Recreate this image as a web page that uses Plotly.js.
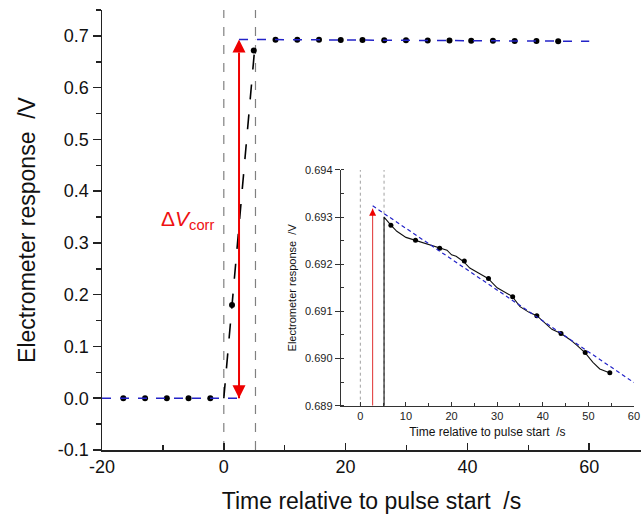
<!DOCTYPE html>
<html>
<head>
<meta charset="utf-8">
<script src="https://cdn.plot.ly/plotly-3.0.1.min.js"></script>
<style>html,body{margin:0;padding:0;background:#fff;}#chart{width:641px;height:519px;}</style>
</head>
<body>
<div id="chart"></div>
<script>
// ---------- Main panel data ----------
var pulseMarks = [0, 5.2];                       // pulse start / end (s)
var dotTimes = [-16.5, -12.93, -9.36, -5.79, -2.22, 1.35, 4.92, 8.49, 12.06, 15.63, 19.2, 22.77,
                26.34, 29.91, 33.48, 37.05, 40.62, 44.19, 47.76, 51.33, 54.9];
var dotValues = [0, 0, 0, 0, 0, 0.18, 0.672, 0.6927, 0.6925, 0.6924, 0.6922, 0.6921,
                 0.6918, 0.6915, 0.6913, 0.6910, 0.6908, 0.6905, 0.6902, 0.6900, 0.6897];
var rampTimes = [0.0, 1.35, 4.92, 5.2];
var rampValues = [0.0, 0.18, 0.672, 0.6930];
var baseTimes = [-20, 2.5];
var baseValues = [0, 0];
var fitTimes = [2.5, 60];
var fitValues = [0.69324, 0.68949];
var arrowTimes = [2.5, 2.5];
var arrowValues = [0.0, 0.693];

// ---------- Inset data ----------
var insetRawTimes = [5.2, 5.2, 6.7, 8, 10, 12, 14, 16, 17.5, 19, 20, 21, 22.6, 24, 26, 28, 30, 32,
                     33.3, 35, 37, 38.7, 40, 42, 44, 46, 47.5, 49.3, 51, 52.5, 54.6];
var insetRawValues = [0.6885, 0.6930, 0.69283, 0.6927, 0.69257, 0.69251, 0.69245, 0.6924, 0.69234,
                      0.6923, 0.6922, 0.69217, 0.69206, 0.69192, 0.69181, 0.6917, 0.6915, 0.69139,
                      0.69132, 0.6911, 0.69098, 0.69091, 0.6908, 0.69062, 0.69053, 0.6904, 0.69028,
                      0.69012, 0.68992, 0.68978, 0.6897];
var insetDotTimes = [6.7, 12.1, 17.4, 22.8, 28.1, 33.4, 38.7, 44.0, 49.3, 54.7];
var insetDotValues = [0.69283, 0.69251, 0.69234, 0.69207, 0.6917, 0.69131, 0.69091, 0.69053, 0.69013, 0.6897];
var insetFitTimes = [2.7, 60];
var insetFitValues = [0.69324, 0.68949];
var insetArrowTimes = [2.7, 2.7];
var insetArrowValues = [0.689, 0.69318];

// ---------- Ticks & text ----------
var xTickVals = [-20, 0, 20, 40, 60];
var xTickText = ['-20', '0', '20', '40', '60'];
var yTickVals = [-0.1, 0, 0.1, 0.2, 0.3, 0.4, 0.5, 0.6, 0.7];
var yTickText = ['-0.1', '0.0', '0.1', '0.2', '0.3', '0.4', '0.5', '0.6', '0.7'];
var insetXTickVals = [0, 10, 20, 30, 40, 50, 60];
var insetYTickVals = [0.689, 0.690, 0.691, 0.692, 0.693, 0.694];
var xTitle = 'Time relative to pulse start \u00a0/s';
var yTitle = 'Electrometer response \u00a0/V';
var deltaLabel = '\u0394<i>V</i><sub>corr</sub>';

var FONT = 'Arial, "Liberation Sans", Helvetica, sans-serif';
var blue = '#2323c8';
var red = '#ee0000';

function vlines(ts, lo, hi) {
  var x = [], y = [];
  ts.forEach(function (t, i) { if (i) { x.push(null); y.push(null); } x.push(t, t); y.push(lo, hi); });
  return {x: x, y: y};
}
var mainV = vlines(pulseMarks, -0.1, 0.75);
var insetV = vlines(pulseMarks, 0.689, 0.694);

var traces = [
  {x: mainV.x, y: mainV.y, mode: 'lines', line: {color: '#808080', width: 1.2, dash: 'dash'},
   hoverinfo: 'skip', showlegend: false},
  {x: rampTimes, y: rampValues, mode: 'lines', line: {color: '#000', width: 1.6, dash: 'longdash'},
   showlegend: false},
  {x: dotTimes, y: dotValues, mode: 'markers', marker: {color: '#000', size: 6}, showlegend: false},
  {x: baseTimes, y: baseValues, mode: 'lines', line: {color: blue, width: 1.5, dash: 'dash'}, showlegend: false},
  {x: fitTimes, y: fitValues, mode: 'lines', line: {color: blue, width: 1.5, dash: 'dash'}, showlegend: false},
  // double-headed red arrow
  {x: arrowTimes, y: arrowValues, mode: 'lines+markers', line: {color: red, width: 2},
   marker: {symbol: ['arrow-down', 'arrow-up'], size: 13, color: red, line: {width: 0}}, showlegend: false},

  {x: insetV.x, y: insetV.y, xaxis: 'x3', yaxis: 'y3', mode: 'lines',
   line: {color: '#a0a0a0', width: 1, dash: 'dot'}, hoverinfo: 'skip', showlegend: false},
  {x: insetArrowTimes, y: insetArrowValues, xaxis: 'x3', yaxis: 'y3', mode: 'lines',
   line: {color: '#e03030', width: 1}, showlegend: false},
  {x: insetArrowTimes.slice(1), y: insetArrowValues.slice(1), xaxis: 'x3', yaxis: 'y3', mode: 'markers',
   marker: {symbol: 'arrow-up', size: 7, color: red, line: {width: 0}}, showlegend: false},
  {x: insetRawTimes, y: insetRawValues, xaxis: 'x3', yaxis: 'y3', mode: 'lines',
   line: {color: '#111', width: 1.1}, showlegend: false},
  {x: insetDotTimes, y: insetDotValues, xaxis: 'x3', yaxis: 'y3', mode: 'markers',
   marker: {color: '#000', size: 5}, showlegend: false},
  {x: insetFitTimes, y: insetFitValues, xaxis: 'x3', yaxis: 'y3', mode: 'lines',
   line: {color: blue, width: 1.2, dash: '4px,3px'}, showlegend: false}
];

var mainRange = [-20, 68.5];
var axLine = '#222';

var layout = {
  width: 641, height: 519,
  margin: {l: 102, r: 0, t: 10, b: 69},
  paper_bgcolor: '#fff', plot_bgcolor: 'rgba(0,0,0,0)',
  font: {family: FONT, color: '#111'},
  showlegend: false,
  xaxis: {
    range: mainRange, tickmode: 'array', tickvals: xTickVals, ticktext: xTickText,
    ticks: 'inside', ticklen: 7, tickwidth: 1.5, tickcolor: axLine,
    minor: {tick0: -20, dtick: 10, ticks: 'inside', ticklen: 5, tickwidth: 1.5, tickcolor: axLine},
    showline: true, linecolor: axLine, linewidth: 1.5, showgrid: false, zeroline: false,
    tickfont: {size: 18, color: '#111'},
    title: {text: xTitle, font: {size: 23, color: '#111'}, standoff: 17}
  },
  xaxis2: {
    overlaying: 'x', anchor: 'y', side: 'top', range: mainRange, tick0: -20, dtick: 20,
    ticks: 'inside', ticklen: 7, tickwidth: 1.5, tickcolor: axLine,
    minor: {dtick: 10, ticks: 'inside', ticklen: 5, tickwidth: 1.5, tickcolor: axLine},
    showline: true, linecolor: axLine, linewidth: 1.5, showgrid: false, zeroline: false, showticklabels: false
  },
  yaxis: {
    range: [-0.1, 0.75], tickmode: 'array', tickvals: yTickVals, ticktext: yTickText,
    ticks: 'outside', ticklen: 8, tickwidth: 1.5, tickcolor: axLine,
    minor: {tick0: 0, dtick: 0.05, ticks: 'outside', ticklen: 5, tickwidth: 1.5, tickcolor: axLine},
    showline: true, linecolor: axLine, linewidth: 1.5, showgrid: false, zeroline: false,
    tickfont: {size: 18, color: '#111'},
    title: {text: yTitle, font: {size: 23, color: '#111'}, standoff: 16}
  },
  xaxis3: {
    domain: [0.4429, 0.987], anchor: 'y3', range: [-4.3, 60], tickmode: 'array', tickvals: insetXTickVals,
    ticks: 'inside', ticklen: 4, tickcolor: '#333',
    minor: {tick0: 0, dtick: 5, ticks: 'inside', ticklen: 3, tickcolor: '#333'},
    showline: true, linecolor: '#333', linewidth: 1, showgrid: false, zeroline: false,
    tickfont: {size: 11, color: '#222'},
    title: {text: xTitle, font: {size: 12, color: '#111'}, standoff: 6}
  },
  xaxis4: {
    overlaying: 'x3', anchor: 'y3', side: 'top', range: [-4.3, 60], tick0: 0, dtick: 10,
    ticks: 'inside', ticklen: 4, tickcolor: '#333',
    minor: {dtick: 5, ticks: 'inside', ticklen: 3, tickcolor: '#333'},
    showline: true, linecolor: '#333', linewidth: 1, showgrid: false, zeroline: false, showticklabels: false
  },
  yaxis3: {
    domain: [0.1007, 0.6364], anchor: 'x3', range: [0.689, 0.694], tickmode: 'array', tickvals: insetYTickVals,
    tickformat: '.3f', ticks: 'outside', ticklen: 5, tickcolor: '#333',
    minor: {tick0: 0.689, dtick: 0.0005, ticks: 'inside', ticklen: 3, tickcolor: '#333'},
    showline: true, linecolor: '#333', linewidth: 1, showgrid: false, zeroline: false,
    tickfont: {size: 11, color: '#222'},
    title: {text: yTitle, font: {size: 11, color: '#111'}, standoff: 6}
  },
  yaxis4: {
    overlaying: 'y3', anchor: 'x3', side: 'right', range: [0.689, 0.694], tick0: 0.689, dtick: 0.001,
    ticks: 'inside', ticklen: 4, tickcolor: '#333',
    minor: {dtick: 0.0005, ticks: 'inside', ticklen: 3, tickcolor: '#333'},
    showline: true, linecolor: '#333', linewidth: 1, showgrid: false, zeroline: false, showticklabels: false
  },
  annotations: [
    {x: -5.9, y: 0.345, xref: 'x', yref: 'y', text: deltaLabel, showarrow: false,
     font: {size: 21, color: '#ee1111', family: FONT}, xanchor: 'center', yanchor: 'middle'}
  ]
};

Plotly.newPlot('chart', traces, layout, {displayModeBar: false, staticPlot: true});
</script>
</body>
</html>
